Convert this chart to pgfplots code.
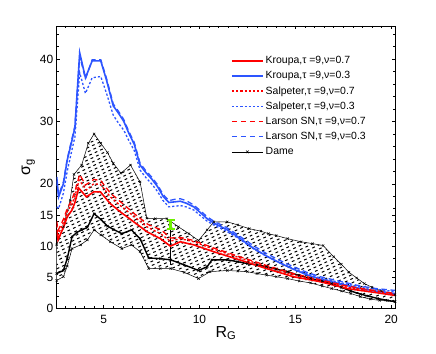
\documentclass[border=0pt]{standalone}
\usepackage{fontspec}
\setmainfont{Liberation Sans}
\usepackage{pgfplots}
\pgfplotsset{compat=1.18}
\usepgfplotslibrary{fillbetween}

\definecolor{mred}{RGB}{255,0,0}
\definecolor{mblue}{RGB}{45,85,255}
\definecolor{mgreen}{RGB}{110,240,0}

% hatching of the Dame band: slanted dashed strokes clipped to the band
\tikzset{dashhatch/.style={path picture={
  \foreach \k in {-45,...,80}{
    \draw[black, line width=1.0bp, dash pattern=on 2.8bp off 3.2bp, dash phase=1.5*\k bp]
      ([shift={(0bp,\k*4.1bp)}]path picture bounding box.south west) -- ++(400bp,186.5bp);
  }}}}
\pgfplotsset{damelegend/.style={legend image code/.code={
  \draw[mark repeat=2,mark phase=2,##1] plot coordinates {(0bp,0bp) (15.5bp,0bp) (31bp,0bp)};}}}

\pgfplotstableread{
x y
2.55 10.2
2.9 13.1
3.25 17.4
3.45 21.5
3.85 23.0
4.2 26.5
4.5 28.0
4.85 26.5
5.2 25.0
5.5 23.3
5.9 21.7
6.4 23.0
6.9 20.3
7.25 14.5
7.7 14.4
8.3 14.4
8.9 13.1
9.45 12.0
9.95 10.9
10.4 12.6
10.75 13.9
11.45 13.9
12.0 13.4
12.6 12.8
13.2 12.4
13.6 12.0
14.0 11.7
14.6 11.2
15.3 10.7
15.9 10.4
16.45 10.1
17.0 8.3
17.4 7.1
17.8 5.8
18.2 4.9
18.6 4.0
19.0 3.4
19.5 2.8
20.2 2.2
}\dameup

\pgfplotstableread{
x y
2.55 5.6
2.9 6.1
3.1 8.0
3.35 11.5
3.6 12.2
3.85 12.6
4.15 13.0
4.5 15.2
4.85 14.3
5.2 13.2
5.5 12.7
5.95 12.0
6.45 12.6
6.9 11.2
7.35 8.1
7.95 8.0
8.5 7.8
9.2 7.0
9.95 6.1
10.4 6.7
10.65 7.8
11.45 7.8
12.0 7.5
12.5 7.2
13.0 7.0
13.5 6.7
14.0 6.3
14.6 5.9
15.2 5.3
15.8 4.8
16.4 4.4
16.9 4.0
17.4 3.4
17.9 2.8
18.4 2.3
18.8 2.0
19.3 1.6
19.8 1.3
20.2 1.1
}\damemid

\pgfplotstableread{
x y
2.55 4.5
2.9 5.1
3.1 6.8
3.35 9.6
3.8 10.2
4.15 11.0
4.5 12.6
4.85 11.8
5.35 10.7
5.95 9.6
6.45 10.2
6.9 9.1
7.35 6.4
7.95 6.4
8.5 6.4
9.2 5.8
9.95 4.8
10.55 5.9
11.45 6.1
12.0 6.0
12.5 5.9
13.0 5.6
13.5 5.35
14.0 5.1
14.6 4.8
15.2 4.4
15.8 4.1
16.4 3.6
16.9 3.2
17.4 2.8
17.9 2.4
18.4 1.9
18.9 1.5
19.4 1.3
20.2 1.1
}\damelow

\begin{document}
\begin{tikzpicture}
\begin{axis}[
    scale only axis, width=338.3bp, height=282.5bp,
    xmin=2.55, xmax=20.2, ymin=0, ymax=45.3,
    xtick={5,10,15,20}, minor xtick={3,3.5,...,20},
    ytick={0,5,10,15,20,30,40}, minor ytick={2,4,...,44},
    tick align=inside, major tick length=3.5bp, minor tick length=2bp,
    tick style={black, line width=0.5bp},
    axis line style={line width=0.7bp},
    /pgf/number format/assume math mode=true,
    tick label style={font=\fontsize{12}{14}\selectfont},
    xticklabel style={yshift=-3bp},
    xlabel={R\textsubscript{G}}, ylabel={σ\textsubscript{g}},
    label style={font=\fontsize{16}{18}\selectfont},
    xlabel style={yshift=4bp},
    ylabel style={yshift=-2bp},
    legend style={draw=none, fill=none, at={(0.515,0.9)}, anchor=north west,
      font=\fontsize{10.5}{12}\selectfont, row sep=2.3bp, inner sep=0pt,
      nodes={text=black}},
    legend cell align=left,
    legend image code/.code={\draw[#1] (0bp,0bp) -- (31bp,0bp);},
]
% Dame band (boundaries drawn further down)
\addplot[name path=up, draw=none, forget plot] table {\dameup};
\addplot[name path=low, draw=none, forget plot] table {\damelow};
\addplot[draw=none, fill=white, dashhatch, forget plot] fill between[of=up and low];
\addplot[black, line width=0.5bp, mark=x, mark size=1.6bp, forget plot] table {\dameup};
\addplot[black, line width=0.5bp, mark=x, mark size=1.6bp, forget plot] table {\damelow};
\addplot[black, line width=1.4bp, mark=x, mark size=1.6bp, mark options={line width=0.6bp}, forget plot] table {\damemid};
% solar neighbourhood value
\addplot[black, line width=1.2bp, forget plot] coordinates {(8.5,7.0) (8.5,14.2)};
\addplot[mgreen, line width=3bp, mark=none, forget plot,
  error bars/.cd, y dir=both, y explicit, error bar style={line width=3bp, mgreen}, error mark options={rotate=90, mark size=4bp, line width=2bp, mgreen}]
  coordinates {(8.5,13.5) +- (0,0.7)};

% Kroupa, nu=0.7
\addplot[mred, line width=1.6bp, forget plot] coordinates {
(2.55,12.6) (2.62,11.0) (2.9,13.0) (3.1,14.7) (3.35,15.8) (3.5,17.0) (3.7,19.3) (4.1,17.9)
(4.48,18.7) (4.83,18.7) (5.35,16.8) (5.87,15.5) (6.57,13.9) (7.26,12.3) (7.96,11.2)
(8.48,10.0) (9.0,10.7) (9.7,10.2) (10.75,9.1) (12.14,7.75) (13.5,6.4) (14.9,5.1)
(16.3,4.3) (17.7,3.2) (19.1,2.6) (20.2,2.1)};
% Kroupa, nu=0.3
\addplot[mblue, line width=1.6bp, forget plot] coordinates {
(2.55,21.1) (2.65,17.9) (2.9,20.0) (3.1,23.8) (3.35,27.0) (3.5,29.0) (3.75,41.0) (4.05,37.0)
(4.4,39.7) (4.85,39.7) (5.15,36.6) (5.5,32.5) (5.8,31.2) (6.05,30.0) (6.3,28.2) (6.6,26.3)
(6.9,23.0) (7.2,21.8) (7.5,20.8) (7.8,19.6) (8.1,18.0) (8.4,17.0) (8.7,17.1) (9.0,17.2)
(9.3,16.9) (9.7,16.3) (10.0,15.5) (10.4,14.4) (10.8,13.6) (11.4,12.7) (12.0,11.5)
(12.8,9.7) (13.5,8.4) (14.2,7.3) (14.9,6.3) (15.6,5.4) (16.3,4.7) (17.0,4.2) (17.7,3.7)
(18.4,3.2) (19.2,2.8) (20.2,2.4)};
% Salpeter, nu=0.7
\addplot[color=mred, line width=1.3bp, dash pattern=on 2.2bp off 2bp, forget plot] coordinates {
(2.55,13.3) (2.62,11.8) (2.9,13.8) (3.1,15.5) (3.35,16.8) (3.5,18.0) (3.72,20.6) (4.1,19.0)
(4.48,20.0) (4.83,19.9) (5.35,17.9) (5.87,16.5) (6.57,14.8) (7.26,13.1) (7.96,12.0)
(8.48,10.8) (9.0,11.2) (9.7,10.7) (10.75,9.5) (12.14,8.1) (13.5,6.7) (14.9,5.4)
(16.3,4.5) (17.7,3.4) (19.1,2.8) (20.2,2.3)};
% Salpeter, nu=0.3
\addplot[color=mblue, line width=1.3bp, dash pattern=on 2.2bp off 2bp, forget plot] coordinates {
(2.55,16.3) (2.65,16.0) (2.9,18.5) (3.1,22.0) (3.35,25.5) (3.5,27.5) (3.75,37.8) (4.05,34.5)
(4.4,37.0) (4.85,37.2) (5.15,34.5) (5.5,31.0) (5.8,29.6) (6.05,28.6) (6.3,27.0) (6.6,25.3)
(6.9,22.2) (7.2,21.0) (7.5,20.0) (7.8,18.8) (8.1,17.3) (8.4,16.3) (8.7,16.4) (9.0,16.5)
(9.3,16.3) (9.7,15.8) (10.0,15.0) (10.4,14.0) (10.8,13.3) (11.4,12.4) (12.0,11.3)
(12.8,9.6) (13.5,8.4) (14.2,7.3) (14.9,6.4) (15.6,5.6) (16.3,4.9) (17.0,4.4) (17.7,3.9)
(18.4,3.5) (19.2,3.1) (20.2,2.7)};
% Larson SN, nu=0.7
\addplot[color=mred, line width=1.3bp, dash pattern=on 5.5bp off 3.5bp, forget plot] coordinates {
(2.55,14.0) (2.62,12.5) (2.9,14.3) (3.1,16.0) (3.35,17.5) (3.5,18.8) (3.75,21.5) (4.05,19.8)
(4.5,20.7) (4.85,20.5) (5.35,18.5) (6.0,16.8) (6.6,15.2) (7.3,13.5) (8.0,12.6) (8.5,11.3)
(9.0,11.4) (9.7,10.9) (10.75,9.7) (12.1,8.3) (13.5,6.9) (14.9,5.6) (16.3,4.6)
(17.7,3.6) (19.1,2.9) (20.2,2.4)};
% Larson SN, nu=0.3
\addplot[color=mblue, line width=1.3bp, dash pattern=on 5.5bp off 3.5bp, forget plot] coordinates {
(2.55,20.5) (2.65,18.2) (2.9,20.3) (3.1,24.0) (3.35,27.3) (3.5,29.3) (3.75,40.5) (4.05,36.8)
(4.4,39.9) (4.85,39.9) (5.15,36.9) (5.5,32.8) (5.8,31.5) (6.05,30.3) (6.3,28.5) (6.6,26.6)
(6.9,23.3) (7.2,22.1) (7.5,21.1) (7.8,19.9) (8.1,18.3) (8.4,17.3) (8.7,17.5) (9.0,17.6)
(9.3,17.3) (9.7,16.6) (10.0,15.8) (10.4,14.7) (10.8,13.9) (11.4,13.0) (12.0,11.8)
(12.8,10.1) (13.5,8.8) (14.2,7.7) (14.9,6.7) (15.6,5.8) (16.3,5.1) (17.0,4.6) (17.7,4.1)
(18.4,3.6) (19.2,3.2) (20.2,2.9)};

% legend
\addlegendimage{draw=red, line width=1.6bp}
\addlegendentry{Kroupa,τ =9,ν=0.7}
\addlegendimage{draw=mblue, line width=1.6bp}
\addlegendentry{Kroupa,τ =9,ν=0.3}
\addlegendimage{draw=red, line width=1.3bp, dash pattern=on 2.2bp off 2bp}
\addlegendentry{Salpeter,τ =9,ν=0.7}
\addlegendimage{draw=mblue, line width=1.3bp, dash pattern=on 2.2bp off 2bp}
\addlegendentry{Salpeter,τ =9,ν=0.3}
\addlegendimage{draw=red, line width=1.3bp, dash pattern=on 5.5bp off 3.5bp}
\addlegendentry{Larson SN,τ =9,ν=0.7}
\addlegendimage{draw=mblue, line width=1.3bp, dash pattern=on 5.5bp off 3.5bp}
\addlegendentry{Larson SN,τ =9,ν=0.3}
\addlegendimage{black, line width=0.5bp, mark=x, mark size=1.8bp, damelegend}
\addlegendentry{Dame}
\end{axis}
\pgfresetboundingbox
\path (-56.7bp,-45.5bp) rectangle ++(436bp,354bp);
\end{tikzpicture}
\end{document}
